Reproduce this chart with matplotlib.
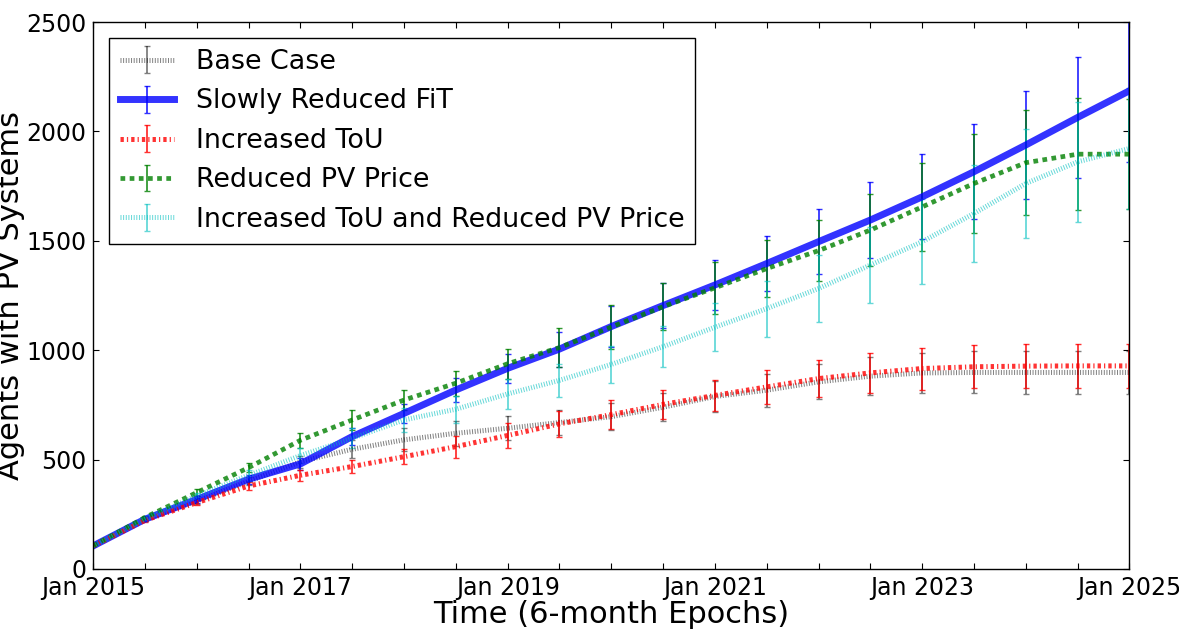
import matplotlib
matplotlib.use("Agg")
from matplotlib import pyplot as plt

# values, one per 6-month epoch (Jan 2015 .. Jan 2025)
base_case = [105, 225, 310, 400, 490, 547, 590, 620, 643, 669, 696,
             739, 788, 817, 855, 881, 896, 898, 898, 898, 898]
base_case_err = [2, 6, 12, 18, 28, 40, 53, 56, 56, 58, 62,
                 65, 70, 75, 80, 88, 93, 96, 98, 98, 98]

slow_fit = [105, 227, 318, 410, 480, 605, 711, 818, 917, 1005, 1108,
            1204, 1298, 1396, 1496, 1595, 1701, 1816, 1938, 2064, 2186]
slow_fit_err = [2, 8, 15, 20, 28, 38, 45, 55, 65, 80, 95,
                105, 115, 126, 148, 172, 194, 218, 248, 277, 325]

tou = [105, 222, 303, 379, 428, 468, 513, 559, 610, 663, 705,
       752, 793, 832, 870, 896, 916, 924, 927, 928, 928]
tou_err = [2, 6, 12, 18, 25, 30, 34, 50, 57, 58, 65,
           66, 71, 76, 83, 93, 96, 99, 101, 102, 102]

pv_price = [105, 235, 349, 463, 588, 681, 772, 849, 938, 1012, 1106,
            1199, 1285, 1373, 1455, 1549, 1655, 1762, 1857, 1896, 1896]
pv_price_err = [2, 8, 15, 22, 35, 45, 46, 57, 69, 89, 101,
                109, 118, 130, 141, 165, 200, 226, 241, 255, 252]

tou_pv = [105, 228, 334, 428, 518, 597, 681, 730, 800, 862, 935,
          1016, 1105, 1190, 1282, 1389, 1496, 1625, 1762, 1861, 1922]
tou_pv_err = [2, 8, 15, 25, 35, 45, 55, 62, 70, 75, 85,
              94, 111, 128, 152, 172, 193, 220, 250, 273, 275]

tick_labels = ['Jan 2015', '', '', '', 'Jan 2017', '', '', '', 'Jan 2019', '', '', '',
               'Jan 2021', '', '', '', 'Jan 2023', '', '', '', 'Jan 2025']

plt.rcParams['lines.scale_dashes'] = False
plt.rcParams['font.family'] = 'DejaVu Sans'

fig = plt.figure(figsize=(11.79, 6.30), dpi=100)
ax = fig.add_axes([0.079, 0.097, 0.879, 0.868])

epochs = list(range(len(base_case)))

series = [
    (base_case, base_case_err, 'Base Case', 'k', 0.5, 3.6, (0, (0.7, 1.2))),
    (slow_fit, slow_fit_err, 'Slowly Reduced FiT', 'b', 0.8, 5.0, '-'),
    (tou, tou_err, 'Increased ToU', 'r', 0.8, 3.6, (0, (2.4, 2.2, 0.9, 2.2))),
    (pv_price, pv_price_err, 'Reduced PV Price', 'g', 0.8, 3.4, (0, (3.4, 3.2))),
    (tou_pv, tou_pv_err, 'Increased ToU and Reduced PV Price', 'c', 0.6, 3.6, (0, (0.7, 1.2))),
]

for vals, err, label, color, alpha, lw, ls in series:
    ax.errorbar(epochs, vals, yerr=err, label=label, color=color, alpha=alpha,
                linewidth=lw, linestyle=ls, elinewidth=1.3, capsize=2,
                capthick=1.0, dash_capstyle='butt')

ax.set_xlim(0, 20)
ax.set_ylim(0, 2500)
ax.set_xticks(epochs)
ax.set_xticklabels(tick_labels)
ax.set_yticks([0, 500, 1000, 1500, 2000, 2500])
ax.tick_params(direction='in', top=True, right=True, length=4, width=0.8,
               labelsize=17, pad=5)
for s in ax.spines.values():
    s.set_linewidth(1.0)

ax.set_xlabel('Time (6-month Epochs)', fontsize=22, labelpad=0)
ax.set_ylabel('Agents with PV Systems', fontsize=22, labelpad=2)
ax.yaxis.set_label_coords(-0.066, 0.5)

leg = ax.legend(loc='upper left', fontsize=19.4, fancybox=False, framealpha=1,
                edgecolor='k', handlelength=2.0, borderaxespad=0.6,
                labelspacing=0.5)
leg.get_frame().set_linewidth(1.0)

fig.savefig('out.png', dpi=100)
